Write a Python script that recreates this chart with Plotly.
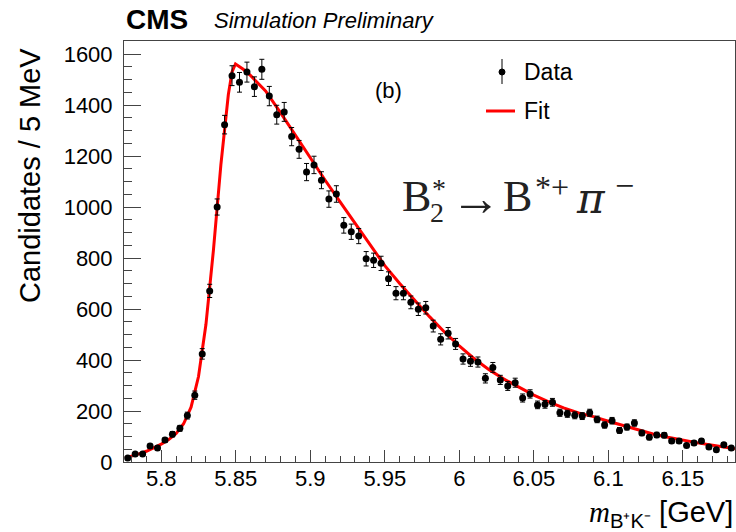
import numpy as np
import plotly.graph_objects as go

# ---------------- data ----------------
bin_start = 5.7775
bin_width = 0.005
counts = [16, 31, 31, 63, 55, 86, 109, 132, 182, 262,
          424, 671, 1000, 1323, 1515, 1489, 1529, 1472, 1540, 1435,
          1362, 1373, 1276, 1226, 1137, 1165, 1105, 1031, 1051, 928,
          903, 886, 797, 791, 779, 719, 662, 662, 626, 599,
          605, 533, 481, 505, 463, 404, 395, 392, 328, 371,
          322, 298, 311, 251, 267, 224, 226, 234, 193, 189,
          183, 180, 193, 167, 145, 162, 124, 137, 153, 114,
          97, 106, 105, 82, 82, 65, 75, 82, 59, 48,
          68, 55]
mass = [bin_start + bin_width * i for i in range(len(counts))]
errors = list(np.sqrt(np.array(counts, dtype=float)))

fit_x = [5.7757, 5.7775, 5.785, 5.79, 5.795, 5.80, 5.805, 5.81, 5.815, 5.82,
         5.825, 5.83, 5.835, 5.84, 5.845, 5.8475, 5.8498, 5.855, 5.86, 5.87,
         5.88, 5.89, 5.90, 5.91, 5.92, 5.93, 5.94, 5.95, 5.96, 5.97,
         5.98, 5.99, 6.00, 6.01, 6.02, 6.03, 6.04, 6.05, 6.06, 6.07,
         6.08, 6.09, 6.10, 6.11, 6.12, 6.13, 6.14, 6.15, 6.16, 6.17,
         6.18, 6.185]
fit_y = [15, 18, 32, 42, 55, 70, 88, 112, 150, 215,
         335, 540, 830, 1165, 1440, 1530, 1561, 1540, 1515, 1455,
         1370, 1280, 1190, 1105, 1020, 935, 850, 770, 700, 635,
         570, 510, 455, 405, 362, 325, 292, 262, 236, 212,
         192, 178, 160, 143, 126, 110, 97, 85, 75, 66,
         56, 52]

x_tickvals = [5.8, 5.85, 5.9, 5.95, 6.0, 6.05, 6.1, 6.15]
x_ticktext = ["5.8", "5.85", "5.9", "5.95", "6", "6.05", "6.1", "6.15"]
y_tickvals = [0, 200, 400, 600, 800, 1000, 1200, 1400, 1600]
y_ticktext = ["0", "200", "400", "600", "800", "1000", "1200", "1400", "1600"]

x_range = [5.775, 6.185]
y_range = [0, 1651]

# ---------------- figure ----------------
W, H = 736, 532
ML, MR, MT, MB = 124, 1, 41, 70
PW, PH = W - ML - MR, H - MT - MB

def px(x):
    return (x - ML) / PW

def py(y):
    return (H - MB - y) / PH

SANS = "Liberation Sans, Arial, Helvetica, sans-serif"
SERIF = "Liberation Serif, Times New Roman, serif"
DSERIF = "DejaVu Serif, serif"
FCOL = "#222222"

fig = go.Figure()

fig.add_trace(go.Scatter(
    x=fit_x, y=fit_y, mode="lines",
    line=dict(color="#ff0000", width=3), name="Fit",
    hoverinfo="skip"))

fig.add_trace(go.Scatter(
    x=mass, y=counts, mode="markers",
    marker=dict(color="black", size=7, symbol="circle"),
    error_y=dict(type="data", array=errors, visible=True,
                 color="black", thickness=1, width=2.5),
    name="Data"))

axis_line = "#444444"
fig.update_xaxes(
    range=x_range, showgrid=False, zeroline=False,
    showline=True, linecolor=axis_line, linewidth=1, mirror=True,
    ticks="inside", ticklen=12, tickwidth=1, tickcolor=axis_line,
    tickvals=x_tickvals, ticktext=x_ticktext,
    tickfont=dict(family=SANS, size=22, color="black"),
    minor=dict(dtick=0.01, tick0=5.8, ticks="inside", ticklen=6,
               tickwidth=1, tickcolor=axis_line, showgrid=False),
    ticklabelstandoff=-3,
)
fig.update_yaxes(
    range=y_range, showgrid=False, zeroline=False,
    showline=True, linecolor=axis_line, linewidth=1, mirror=True,
    ticks="inside", ticklen=17, tickwidth=1, tickcolor=axis_line,
    tickvals=y_tickvals, ticktext=y_ticktext,
    tickfont=dict(family=SANS, size=22, color="black"),
    minor=dict(dtick=50, tick0=0, ticks="inside", ticklen=8,
               tickwidth=1, tickcolor=axis_line, showgrid=False),
    ticklabelstandoff=6,
)

def text_ann(x, y, text, size, family=SANS, xanchor="left", color="black", angle=0):
    return dict(x=px(x), y=py(y), xref="paper", yref="paper", text=text,
                showarrow=False, xanchor=xanchor, yanchor="middle",
                textangle=angle, font=dict(family=family, size=size, color=color))

ann = [
    text_ann(124, 19, "<b>CMS</b>", 28),
    text_ann(212, 20, "<i>Simulation Preliminary</i>", 22),
    text_ann(30, 176, "Candidates / 5 MeV", 29, xanchor="center", angle=-90),
    text_ann(735, 514,
             "<span style='font-family:Liberation Serif'><i>m</i></span><sub>B⁺K⁻</sub> [GeV]",
             29, xanchor="right"),
    text_ann(388, 90, "(b)", 22, xanchor="center"),
    text_ann(522, 72, "Data", 23),
    text_ann(522, 111, "Fit", 23),
    # decay formula  B2* -> B*+ pi-
    text_ann(400, 196, "B", 44, family=SERIF, color=FCOL),
    text_ann(430, 189, "*", 28, family=SERIF, color=FCOL),
    text_ann(428, 212, "2", 28, family=SERIF, color=FCOL),
    text_ann(449, 198, "→", 50, family=SERIF, color=FCOL),
    text_ann(501, 196, "B", 44, family=SERIF, color=FCOL),
    text_ann(533, 187, "*+", 32, family=SERIF, color=FCOL),
    text_ann(574, 198, "<i>π</i>", 42, family=DSERIF, color=FCOL),
    text_ann(613, 185, "−", 34, family=SERIF, color=FCOL),
]

shapes = [
    dict(type="line", xref="paper", yref="paper",
         x0=px(502), x1=px(502), y0=py(59), y1=py(84),
         line=dict(color="black", width=1)),
    dict(type="circle", xref="paper", yref="paper",
         x0=px(499), x1=px(505), y0=py(75), y1=py(69),
         fillcolor="black", line=dict(color="black", width=1)),
    dict(type="line", xref="paper", yref="paper",
         x0=px(486), x1=px(515), y0=py(111), y1=py(111),
         line=dict(color="#ff0000", width=3)),
]

fig.update_layout(
    width=W, height=H,
    margin=dict(l=ML, r=MR, t=MT, b=MB),
    paper_bgcolor="white", plot_bgcolor="white",
    showlegend=False,
    annotations=ann, shapes=shapes,
    font=dict(family=SANS, color="black"),
)

fig.write_html("out.html", config={"displayModeBar": False},
               post_script="document.body.style.margin='0px';")
